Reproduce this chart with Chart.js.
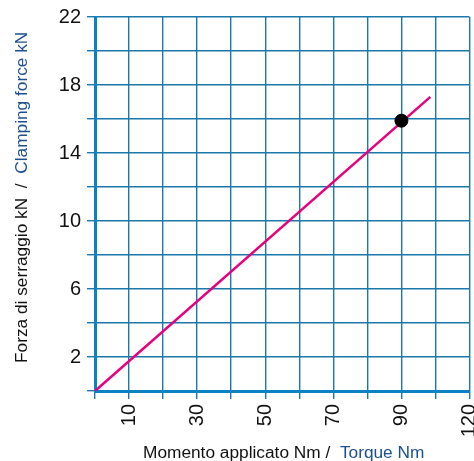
<!DOCTYPE html>
<html>
<head>
<meta charset="utf-8">
<script src="https://cdn.jsdelivr.net/npm/chart.js@4.4.0/dist/chart.umd.min.js"></script>
<style>
  html, body { margin: 0; padding: 0; background: #fff; }
  #wrap { width: 474px; height: 461px; position: relative; }
</style>
</head>
<body>
<div id="wrap"><canvas id="chart"></canvas></div>
<script>
// -- DATA
const torqueLine = [0, 98.5];          // Nm
const forceLine  = [0, 17.3];          // kN
const markTorque = [90];
const markForce  = [15.9];
const xTickLabels = ['', '10', '', '30', '', '50', '', '70', '', '90', '', '120'];  // 0..110 step 10
const yTickLabels = ['', '2', '', '6', '', '10', '', '14', '', '18', '', '22'];     // 0..22 step 2

const FONT = "'Liberation Sans', Arial, sans-serif";
const GRID = '#1b78ab';
const AXIS = '#0b82c4';
const BLUE = '#1d4f8e';

// -- AXIS TITLES (two-colour, drawn by hand)
const titles = {
  id: 'titles',
  afterDraw(chart) {
    const ctx = chart.ctx;
    ctx.save();
    ctx.font = '17.3px ' + FONT;
    ctx.textBaseline = 'alphabetic';
    ctx.textAlign = 'left';
    // x title
    const a = 'Momento applicato Nm /  ';
    ctx.fillStyle = '#111';
    ctx.fillText(a, 143, 458);
    ctx.fillStyle = BLUE;
    ctx.fillText('Torque Nm', 143 + ctx.measureText(a).width, 458);
    // y title
    ctx.translate(27, 363);
    ctx.rotate(-Math.PI / 2);
    const b = 'Forza di serraggio kN  /  ';
    ctx.fillStyle = '#111';
    ctx.fillText(b, 0, 0);
    ctx.fillStyle = BLUE;
    ctx.fillText('Clamping force kN', ctx.measureText(b).width, 0);
    ctx.restore();
  }
};

new Chart(document.getElementById('chart'), {
  type: 'scatter',
  data: {
    datasets: [
      {
        type: 'line',
        data: torqueLine.map((t, i) => ({ x: t, y: forceLine[i] })),
        borderColor: '#e5007d', borderWidth: 2.5,
        pointRadius: 0, fill: false, tension: 0, order: 2
      },
      {
        data: markTorque.map((t, i) => ({ x: t, y: markForce[i] })),
        backgroundColor: '#000', borderColor: '#000',
        pointRadius: 6.5, order: 1
      }
    ]
  },
  plugins: [titles],
  options: {
    responsive: true, maintainAspectRatio: false,
    animation: false,
    layout: { autoPadding: false, padding: { top: 17, right: 4.5, left: 0, bottom: 0 } },
    plugins: { legend: { display: false }, tooltip: { enabled: false } },
    scales: {
      x: {
        type: 'linear', min: 0, max: 110,
        afterFit: s => { s.height = 70; s.paddingLeft = 0; s.paddingRight = 0; },
        grid: { color: GRID, lineWidth: 1.4, tickLength: 8, drawTicks: true },
        border: { display: true, color: AXIS, width: 3 },
        ticks: {
          stepSize: 10, autoSkip: false, minRotation: 90, maxRotation: 90,
          color: '#111', font: { family: FONT, size: 20 }, padding: 5,
          callback: (v) => xTickLabels[Math.round(v / 10)] ?? ''
        }
      },
      y: {
        type: 'linear', min: 0, max: 22,
        afterFit: s => { s.width = 95; s.paddingTop = 0; s.paddingBottom = 0; },
        grid: { color: GRID, lineWidth: 1.4, tickLength: 8, drawTicks: true },
        border: { display: true, color: AXIS, width: 3 },
        ticks: {
          stepSize: 2, autoSkip: false,
          color: '#111', font: { family: FONT, size: 20 }, padding: 6,
          callback: (v) => yTickLabels[Math.round(v / 2)] ?? ''
        }
      }
    }
  }
});
</script>
</body>
</html>
